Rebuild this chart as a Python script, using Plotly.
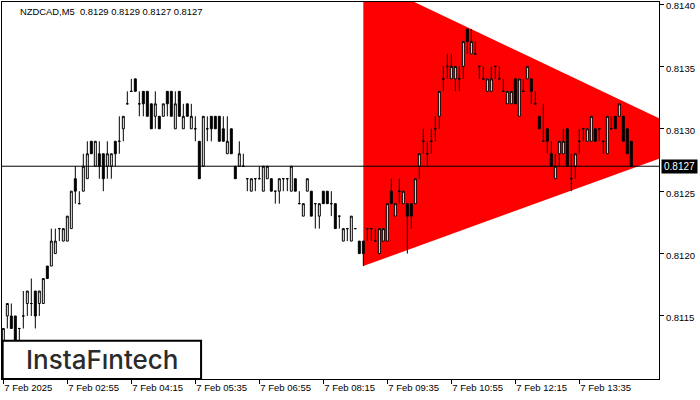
import plotly.graph_objects as go

symbol = "NZDCAD,M5"

open_ = [
    0.8113, 0.8115, 0.8115, 0.8115, 0.8114, 0.8115, 0.8116, 0.8116, 0.8117, 0.8116,
    0.8116, 0.8119, 0.8119, 0.8120, 0.8122, 0.8121, 0.8121, 0.8122, 0.8126, 0.8124,
    0.8125, 0.8126, 0.8129, 0.8127, 0.8128, 0.8128, 0.8127, 0.8127, 0.8129, 0.8129,
    0.8130, 0.8132, 0.8133, 0.8134, 0.8132, 0.8133, 0.8133, 0.8132, 0.8131, 0.8131,
    0.8131, 0.8133, 0.8133, 0.8130, 0.8133, 0.8130, 0.8132, 0.8130, 0.8130, 0.8129,
    0.8127, 0.8130, 0.8131, 0.8131, 0.8131, 0.8130, 0.8128, 0.8130, 0.8127, 0.8127,
    0.8127, 0.8126, 0.8125, 0.8126, 0.8126, 0.8125, 0.8126, 0.8126, 0.8125, 0.8125,
    0.8126, 0.8126, 0.8125, 0.8126, 0.8124, 0.8123, 0.8125, 0.8125, 0.8124, 0.8123,
    0.8125, 0.8125, 0.8124, 0.8124, 0.8123, 0.8121, 0.8122, 0.8121, 0.8122, 0.8121,
    0.8121, 0.8122, 0.8122, 0.8121, 0.8120, 0.8121, 0.8121, 0.8125, 0.8123, 0.8125,
    0.8124, 0.8124, 0.8124, 0.8124, 0.8127, 0.8129, 0.8128, 0.8129, 0.8130, 0.8131,
    0.8134, 0.8135, 0.8134, 0.8134, 0.8134, 0.8135, 0.8138, 0.8136, 0.8136, 0.8135,
    0.8134, 0.8133, 0.8133, 0.8135, 0.8134, 0.8133, 0.8132, 0.8132, 0.8134, 0.8131,
    0.8133, 0.8134, 0.8134, 0.8132, 0.8131, 0.8129, 0.8130, 0.8128, 0.8126, 0.8128,
    0.8128, 0.8130, 0.8126, 0.8127, 0.8129, 0.8130, 0.8129, 0.8129, 0.8130, 0.8130,
    0.8129, 0.8128, 0.8130, 0.8131, 0.8131, 0.8131, 0.8130, 0.8129,
]
high = [
    0.8114, 0.8116, 0.8116, 0.8115, 0.8114, 0.8117, 0.8117, 0.8118, 0.8117, 0.8117,
    0.8118, 0.8119, 0.8122, 0.8122, 0.8122, 0.8122, 0.8123, 0.8125, 0.8127, 0.8125,
    0.8128, 0.8129, 0.8129, 0.8129, 0.8129, 0.8128, 0.8129, 0.8128, 0.8129, 0.8131,
    0.8131, 0.8133, 0.8134, 0.8134, 0.8133, 0.8133, 0.8133, 0.8132, 0.8133, 0.8131,
    0.8132, 0.8133, 0.8133, 0.8133, 0.8133, 0.8132, 0.8132, 0.8132, 0.8131, 0.8129,
    0.8131, 0.8131, 0.8131, 0.8131, 0.8131, 0.8131, 0.8131, 0.8130, 0.8127, 0.8129,
    0.8128, 0.8126, 0.8126, 0.8126, 0.8127, 0.8127, 0.8127, 0.8126, 0.8125, 0.8126,
    0.8126, 0.8126, 0.8127, 0.8126, 0.8125, 0.8124, 0.8126, 0.8125, 0.8124, 0.8124,
    0.8125, 0.8125, 0.8125, 0.8124, 0.8123, 0.8122, 0.8122, 0.8123, 0.8122, 0.8121,
    0.8121, 0.8122, 0.8122, 0.8122, 0.8122, 0.8122, 0.8124, 0.8126, 0.8124, 0.8126,
    0.8125, 0.8124, 0.8124, 0.8126, 0.8128, 0.8130, 0.8129, 0.8130, 0.8131, 0.8133,
    0.8135, 0.8136, 0.8136, 0.8135, 0.8135, 0.8137, 0.8138, 0.8138, 0.8137, 0.8135,
    0.8135, 0.8134, 0.8135, 0.8135, 0.8135, 0.8134, 0.8133, 0.8133, 0.8134, 0.8134,
    0.8134, 0.8135, 0.8134, 0.8133, 0.8131, 0.8132, 0.8130, 0.8129, 0.8128, 0.8129,
    0.8130, 0.8130, 0.8128, 0.8128, 0.8130, 0.8130, 0.8130, 0.8131, 0.8130, 0.8130,
    0.8129, 0.8131, 0.8131, 0.8131, 0.8132, 0.8131, 0.8130, 0.8129,
]
low = [
    0.8112, 0.8114, 0.8114, 0.8113, 0.8113, 0.8114, 0.8115, 0.8115, 0.8114, 0.8115,
    0.8116, 0.8118, 0.8119, 0.8120, 0.8121, 0.8121, 0.8121, 0.8122, 0.8124, 0.8124,
    0.8125, 0.8126, 0.8128, 0.8127, 0.8126, 0.8125, 0.8126, 0.8126, 0.8127, 0.8128,
    0.8129, 0.8132, 0.8133, 0.8133, 0.8131, 0.8131, 0.8131, 0.8130, 0.8130, 0.8130,
    0.8131, 0.8131, 0.8131, 0.8130, 0.8131, 0.8130, 0.8131, 0.8130, 0.8129, 0.8126,
    0.8127, 0.8129, 0.8129, 0.8130, 0.8129, 0.8129, 0.8128, 0.8128, 0.8126, 0.8127,
    0.8127, 0.8125, 0.8125, 0.8125, 0.8126, 0.8125, 0.8126, 0.8125, 0.8124, 0.8124,
    0.8125, 0.8125, 0.8125, 0.8125, 0.8124, 0.8123, 0.8125, 0.8123, 0.8122, 0.8122,
    0.8124, 0.8124, 0.8123, 0.8122, 0.8122, 0.8121, 0.8121, 0.8121, 0.8122, 0.8120,
    0.8119, 0.8121, 0.8121, 0.8121, 0.8120, 0.8121, 0.8121, 0.8124, 0.8123, 0.8124,
    0.8124, 0.8120, 0.8122, 0.8124, 0.8126, 0.8128, 0.8127, 0.8128, 0.8129, 0.8130,
    0.8133, 0.8134, 0.8134, 0.8133, 0.8133, 0.8134, 0.8136, 0.8136, 0.8136, 0.8134,
    0.8134, 0.8133, 0.8133, 0.8134, 0.8134, 0.8133, 0.8132, 0.8132, 0.8132, 0.8131,
    0.8133, 0.8134, 0.8132, 0.8132, 0.8130, 0.8129, 0.8128, 0.8127, 0.8126, 0.8127,
    0.8128, 0.8127, 0.8125, 0.8126, 0.8128, 0.8129, 0.8129, 0.8129, 0.8129, 0.8129,
    0.8128, 0.8128, 0.8130, 0.8130, 0.8131, 0.8129, 0.8128, 0.8127,
]
close = [
    0.8114, 0.8116, 0.8114, 0.8113, 0.8114, 0.8115, 0.8117, 0.8116, 0.8115, 0.8117,
    0.8118, 0.8118, 0.8121, 0.8121, 0.8122, 0.8122, 0.8123, 0.8125, 0.8125, 0.8124,
    0.8127, 0.8128, 0.8128, 0.8129, 0.8127, 0.8126, 0.8128, 0.8128, 0.8128, 0.8129,
    0.8131, 0.8132, 0.8133, 0.8133, 0.8132, 0.8132, 0.8131, 0.8130, 0.8132, 0.8130,
    0.8132, 0.8132, 0.8131, 0.8132, 0.8131, 0.8131, 0.8131, 0.8131, 0.8130, 0.8126,
    0.8131, 0.8130, 0.8130, 0.8130, 0.8129, 0.8129, 0.8129, 0.8128, 0.8126, 0.8128,
    0.8127, 0.8126, 0.8126, 0.8126, 0.8126, 0.8127, 0.8127, 0.8125, 0.8125, 0.8126,
    0.8126, 0.8126, 0.8127, 0.8125, 0.8124, 0.8124, 0.8126, 0.8123, 0.8124, 0.8124,
    0.8124, 0.8124, 0.8124, 0.8122, 0.8123, 0.8122, 0.8122, 0.8123, 0.8122, 0.8120,
    0.8120, 0.8122, 0.8122, 0.8121, 0.8122, 0.8122, 0.8124, 0.8124, 0.8124, 0.8125,
    0.8125, 0.8123, 0.8123, 0.8126, 0.8128, 0.8129, 0.8128, 0.8129, 0.8130, 0.8133,
    0.8134, 0.8135, 0.8135, 0.8135, 0.8134, 0.8137, 0.8137, 0.8137, 0.8136, 0.8135,
    0.8134, 0.8134, 0.8134, 0.8135, 0.8134, 0.8133, 0.8133, 0.8133, 0.8132, 0.8134,
    0.8133, 0.8135, 0.8133, 0.8132, 0.8130, 0.8129, 0.8129, 0.8127, 0.8127, 0.8129,
    0.8129, 0.8127, 0.8126, 0.8128, 0.8129, 0.8130, 0.8130, 0.8131, 0.8129, 0.8130,
    0.8129, 0.8131, 0.8130, 0.8130, 0.8132, 0.8129, 0.8128, 0.8127,
]

x_tick_bars = [0, 16, 32, 48, 64, 80, 96, 112, 128, 144]
x_tick_labels = ["7 Feb 2025", "7 Feb 02:55", "7 Feb 04:15", "7 Feb 05:35", "7 Feb 06:55",
                 "7 Feb 08:15", "7 Feb 09:35", "7 Feb 10:55", "7 Feb 12:15", "7 Feb 13:35"]
y_ticks = [0.8115, 0.8120, 0.8125, 0.8130, 0.8135, 0.8140]

triangle_bar = [90, 90, 176]
triangle_price = [0.81421, 0.81190, 0.81290]

bars = list(range(len(close)))
FONT = "Liberation Sans"

fig = go.Figure()

# red triangle pattern, drawn beneath the candles in data coordinates
tri_path = "M " + " L ".join(f"{b},{p}" for b, p in zip(triangle_bar, triangle_price)) + " Z"
fig.add_shape(type="path", path=tri_path, xref="x", yref="y",
              fillcolor="#FF0000", line=dict(width=0), layer="below")

fig.add_trace(go.Candlestick(
    x=bars, open=open_, high=high, low=low, close=close,
    increasing=dict(fillcolor="#FFFFFF", line=dict(color="#000000", width=1)),
    decreasing=dict(fillcolor="#000000", line=dict(color="#000000", width=1)),
    whiskerwidth=0, showlegend=False,
))

last_close = close[-1]
fig.add_shape(type="line", xref="paper", x0=0, x1=1, yref="y", y0=last_close, y1=last_close,
              line=dict(color="#000000", width=1), layer="above")

# logo box
fig.add_shape(type="rect", xref="paper", yref="paper", x0=0.001, x1=0.303, y0=0.0, y1=0.1016,
              line=dict(color="#000000", width=2), fillcolor="#FFFFFF", layer="above")
fig.add_annotation(text="InstaF\u0131ntech", xref="paper", yref="paper", x=0.153, y=0.052,
                   xanchor="center", yanchor="middle", showarrow=False,
                   font=dict(family="Inter", size=26, color="#2b2b2b", weight=500))

nb = "\u00a0"
title = f"{symbol}{nb}{nb}{open_[-1]:.4f} {high[-1]:.4f} {low[-1]:.4f} {close[-1]:.4f}"
fig.add_annotation(text=title, xref="paper", yref="paper", x=0.0244, y=0.976,
                   xanchor="left", yanchor="middle", showarrow=False,
                   font=dict(family=FONT, size=9.4, color="#000000"))

fig.add_annotation(text=f"{last_close:.4f}", xref="paper", yref="y", x=1.0, y=last_close,
                   xanchor="left", yanchor="middle", xshift=2, showarrow=False,
                   bgcolor="#000000", width=33, height=11, borderpad=1,
                   font=dict(family=FONT, size=10, color="#FFFFFF"))

fig.update_layout(
    width=700, height=400,
    margin=dict(l=2, r=41, t=2, b=21, autoexpand=False),
    paper_bgcolor="#FFFFFF", plot_bgcolor="#FFFFFF",
    showlegend=False,
    xaxis=dict(
        range=[-0.33, 163.92], tickvals=x_tick_bars, ticktext=x_tick_labels,
        ticks="outside", ticklen=4, tickcolor="#000000", ticklabelposition="outside right",
        tickfont=dict(family=FONT, size=9.5, color="#000000"), ticklabeloverflow="allow",
        automargin=False,
        showgrid=False, zeroline=False, showline=True, mirror=True,
        linecolor="#000000", linewidth=1, rangeslider=dict(visible=False),
    ),
    yaxis=dict(
        range=[0.810995, 0.814016], side="right", tickvals=y_ticks,
        ticktext=[f"{v:.4f}" for v in y_ticks],
        ticks="outside", ticklen=4, tickcolor="#000000", ticklabeloverflow="allow",
        ticklabelshift=2, automargin=False,
        tickfont=dict(family=FONT, size=9.5, color="#000000"),
        showgrid=False, zeroline=False, showline=True, mirror=True,
        linecolor="#000000", linewidth=1,
    ),
)

fig.write_html("out.html", config={"displayModeBar": False},
               post_script="document.body.style.margin='0';")
